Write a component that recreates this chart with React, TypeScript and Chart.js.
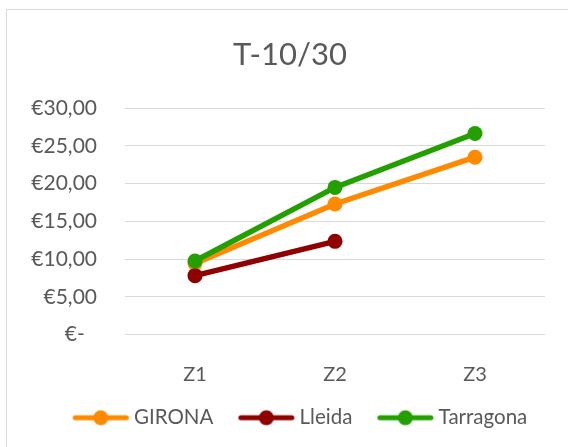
import React, { useEffect, useRef } from "react";
import { Chart, registerables } from "chart.js";

Chart.register(...registerables);

const categories = ["Z1", "Z2", "Z3"];
const seriesNames = ["GIRONA", "Lleida", "Tarragona"];
const gironaValues = [9.4, 17.3, 23.5];
const lleidaValues = [7.8, 12.35, null];
const tarragonaValues = [9.75, 19.5, 26.65];
const seriesColors = ["#ff8a00", "#8f0000", "#23a000"];
const titleText = "T-10/30";

const FONT = "Lato, 'Open Sans', sans-serif";
const TEXT = "#595959";

// legend marker: line with a dot, drawn into an image
function makeLegendImage(color: string): HTMLCanvasElement {
  const c = document.createElement("canvas");
  c.width = 87;
  c.height = 18;
  const ctx = c.getContext("2d")!;
  ctx.strokeStyle = color;
  ctx.lineWidth = 5;
  ctx.lineCap = "round";
  ctx.beginPath();
  ctx.moveTo(30.5, 9);
  ctx.lineTo(81.5, 9);
  ctx.stroke();
  ctx.fillStyle = color;
  ctx.beginPath();
  ctx.arc(56, 9, 7.5, 0, Math.PI * 2);
  ctx.fill();
  return c;
}

export default function App() {
  const ref = useRef<HTMLCanvasElement>(null);
  useEffect(() => {
    const values = [gironaValues, lleidaValues, tarragonaValues];
    const chart = new Chart(ref.current!, {
      type: "line",
      data: {
        labels: categories,
        datasets: seriesNames.map((name, i) => ({
          label: name,
          data: values[i],
          borderColor: seriesColors[i],
          backgroundColor: seriesColors[i],
          borderWidth: 5.5,
          pointRadius: 7.5,
          pointHoverRadius: 7.5,
          pointBorderWidth: 0,
          pointStyle: "circle",
          spanGaps: false,
          tension: 0,
          order: 3 - i,
          yAxisID: "y",
        })),
      },
      options: {
        animation: false,
        responsive: false,
        maintainAspectRatio: false,
        layout: { padding: { left: 12, right: 0, top: 0, bottom: 9 } },
        plugins: {
          title: {
            display: true,
            text: titleText,
            color: TEXT,
            font: { family: FONT, size: 31, weight: "normal" as any, lineHeight: 1.2 },
            padding: { top: 36, bottom: 35 },
          },
          legend: {
            position: "bottom",
            labels: {
              color: TEXT,
              font: { family: FONT, size: 20.5 },
              usePointStyle: true,
              pointStyleWidth: 71,
              padding: 5,
              generateLabels: (chart: any) =>
                chart.data.datasets.map((ds: any, i: number) => ({
                  text: ds.label,
                  fillStyle: ds.backgroundColor,
                  strokeStyle: ds.borderColor,
                  lineWidth: 0,
                  pointStyle: makeLegendImage(seriesColors[i]),
                  datasetIndex: i,
                  fontColor: TEXT,
                  hidden: false,
                })),
            },
          },
          tooltip: { enabled: false },
        },
        scales: {
          x: {
            offset: true,
            grid: { display: false, drawTicks: false },
            border: { display: false },
            ticks: { color: TEXT, font: { family: FONT, size: 20 }, padding: 28 },
            afterFit: (s: any) => {
              s.height = 68;
            },
          },
          y: {
            position: "left",
            min: 0,
            max: 30,
            grid: { color: "#d9d9d9", lineWidth: 1, drawTicks: false },
            border: { display: false },
            ticks: {
              stepSize: 5,
              autoSkip: false,
              color: TEXT,
              font: { family: FONT, size: 21 },
              padding: 28,
              callback: (v: any) =>
                Number(v) === 0 ? "€-\u2007" : "€" + Number(v).toFixed(2).replace(".", ","),
            },
            afterFit: (s: any) => {
              s.width = 113;
            },
          },
          yRight: {
            type: "linear",
            position: "right",
            display: true,
            grid: { display: false, drawTicks: false },
            border: { display: false },
            ticks: { display: false },
            afterFit: (s: any) => {
              s.width = 23;
            },
          },
        },
      },
    });
    return () => chart.destroy();
  }, []);

  return (
    <div
      style={{
        position: "fixed",
        left: 0,
        top: 0,
        width: 568,
        height: 447,
        overflow: "hidden",
        background: "#ffffff",
      }}
    >
      <canvas ref={ref} width={568} height={447} style={{ position: "absolute", left: 0, top: 0 }} />
      <div
        style={{
          position: "absolute",
          left: 6,
          top: 9,
          width: 600,
          height: 500,
          border: "1px solid #d9d9d9",
          pointerEvents: "none",
        }}
      />
    </div>
  );
}
